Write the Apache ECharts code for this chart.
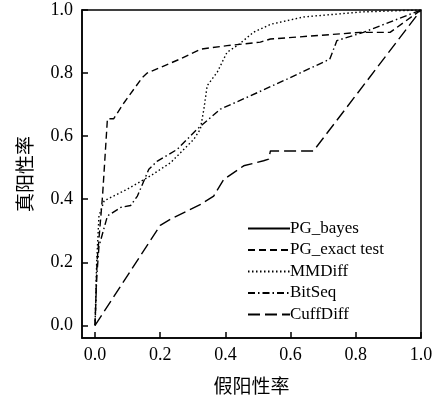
<!DOCTYPE html>
<html><head><meta charset="utf-8">
<script src="https://cdn.jsdelivr.net/npm/echarts@6/dist/echarts.min.js"></script>
<style>html,body{margin:0;padding:0;background:#fff}#c{width:444px;height:407px}</style>
</head><body><div id="c"></div>
<script>
const tickValues = [0, 0.2, 0.4, 0.6, 0.8, 1.0];
const seriesNames = ['PG_bayes', 'PG_exact test', 'MMDiff', 'BitSeq', 'CuffDiff'];
const pgBayes = [];
const pgExact = [[0,0],[0.006,0.2],[0.023,0.41],[0.038,0.655],[0.057,0.655],[0.089,0.706],[0.145,0.786],[0.16,0.80],[0.262,0.845],[0.324,0.876],[0.405,0.887],[0.507,0.898],[0.538,0.908],[0.813,0.929],[0.905,0.929],[1,1]];
const mmdiff = [[0,0],[0.005,0.2],[0.012,0.347],[0.028,0.395],[0.099,0.432],[0.17,0.474],[0.232,0.516],[0.303,0.59],[0.323,0.622],[0.334,0.686],[0.344,0.76],[0.375,0.803],[0.405,0.866],[0.44,0.89],[0.487,0.93],[0.54,0.955],[0.64,0.978],[0.82,0.994],[1,1]];
const bitseq = [[0,0],[0.005,0.15],[0.012,0.25],[0.038,0.347],[0.079,0.374],[0.109,0.38],[0.13,0.41],[0.165,0.495],[0.19,0.52],[0.252,0.558],[0.313,0.622],[0.385,0.686],[0.477,0.728],[0.589,0.781],[0.72,0.844],[0.742,0.903],[0.823,0.929],[0.915,0.966],[1,1]];
const cuffdiff = [[0,0],[0.2,0.317],[0.232,0.337],[0.324,0.384],[0.364,0.41],[0.395,0.463],[0.456,0.506],[0.517,0.522],[0.533,0.527],[0.538,0.553],[0.67,0.553],[1,1]];

const serif = '"Liberation Serif","DejaVu Serif",serif';
const cjk = '"Noto Sans CJK SC","Noto Sans",sans-serif';
const styles = [
  {type:'solid', width:2.6},
  {type:[7,4], width:1.4},
  {type:[1.5,2.5], width:1.4},
  {type:[7,3,1.5,3], width:1.4},
  {type:[12,5], width:1.4}
];
const datas = [pgBayes, pgExact, mmdiff, bitseq, cuffdiff];
function axisCommon(margin, gap){
  return {
    type:'value', min:-0.04, max:1.0,
    axisLine:{show:true, onZero:false, lineStyle:{color:'#000', width:1.5}},
    axisTick:{show:true, inside:true, length:6, customValues:tickValues, lineStyle:{color:'#000', width:1.5}},
    axisLabel:{customValues:tickValues, formatter:v=>v.toFixed(1), color:'#000', fontFamily:serif, fontSize:18, margin:margin},
    splitLine:{show:false},
    nameLocation:'middle', nameGap:gap,
    nameTextStyle:{fontFamily:cjk, fontSize:19, color:'#000'}
  };
}
const chart = echarts.init(document.getElementById('c'));
chart.setOption({
  animation:false,
  grid:{left:82, right:23, top:10, bottom:69, show:true, borderColor:'#000', borderWidth:1.5},
  xAxis:Object.assign(axisCommon(8, 38), {name:'假阳性率'}),
  yAxis:Object.assign(axisCommon(9, 48), {name:'真阳性率'}),
  legend:{orient:'vertical', left:242, top:215, itemWidth:42, itemHeight:14, itemGap:4.5,
    itemStyle:{opacity:0},
    textStyle:{fontFamily:serif, fontSize:17, color:'#000', padding:[0,0,0,-5]},
    data:seriesNames},
  series:seriesNames.map((n,i)=>({name:n, type:'line', data:datas[i], symbol:'none', color:'#000',
    lineStyle:Object.assign({color:'#000'}, styles[i])}))
});
</script></body></html>
